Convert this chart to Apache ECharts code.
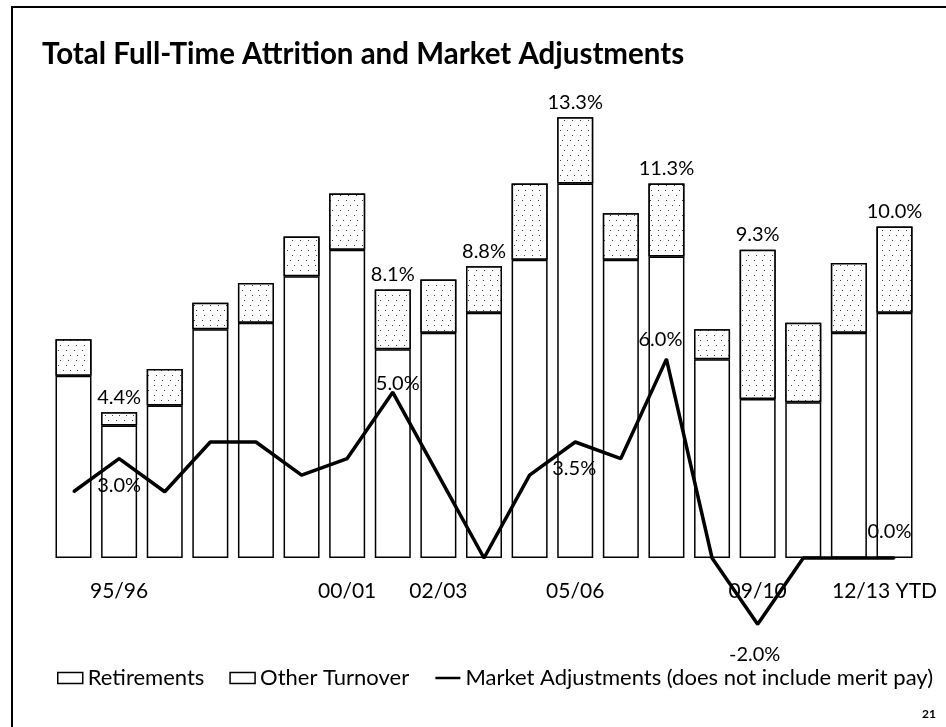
<!DOCTYPE html>
<html>
<head>
<meta charset="utf-8">
<script src="https://cdn.jsdelivr.net/npm/echarts@6/dist/echarts.min.js"></script>
<style>
html,body{margin:0;padding:0;background:#fff;}
#chart{width:946px;height:727px;}
</style>
</head>
<body>
<div id="chart"></div>
<script>
const categories = ['94/95','95/96','96/97','97/98','98/99','99/00','00/01','01/02','02/03','03/04','04/05','05/06','06/07','07/08','08/09','09/10','10/11','11/12','12/13 YTD'];
const tickLabels = ['', '95/96', '', '', '', '', '00/01', '', '02/03', '', '', '05/06', '', '', '', '09/10', '', '', '12/13 YTD'];
const retirements = [5.5, 4.0, 4.6, 6.9, 7.1, 8.5, 9.3, 6.3, 6.8, 7.4, 9.0, 11.3, 9.0, 9.1, 6.0, 4.8, 4.7, 6.8, 7.4];
const otherTurnover = [1.1, 0.4, 1.1, 0.8, 1.2, 1.2, 1.7, 1.8, 1.6, 1.4, 2.3, 2.0, 1.4, 2.2, 0.9, 4.5, 2.4, 2.1, 2.6];
const marketAdjustments = [2.0, 3.0, 2.0, 3.5, 3.5, 2.5, 3.0, 5.0, 2.5, 0.0, 2.5, 3.5, 3.0, 6.0, 0.0, -2.0, 0.0, 0.0, 0.0];
const totalLabelShown = [false, true, false, false, false, false, false, true, false, true, false, true, false, true, false, true, false, false, true];
const lineLabelOffsets = {1: [0, 27], 7: [5, -9], 11: [-1, 27], 13: [-6, -20], 15: [-3, 30], 18: [-5, -26]};

const FONT = 'Lato';
const chart = echarts.init(document.getElementById('chart'), null, {renderer: 'canvas'});

const otherData = otherTurnover.map((v, i) => ({
  value: v,
  label: {
    show: totalLabelShown[i],
    position: 'top',
    distance: 5,
    formatter: () => (retirements[i] + otherTurnover[i]).toFixed(1) + '%'
  }
}));

const lineData = marketAdjustments.map((v, i) => {
  const off = lineLabelOffsets[i];
  return {
    value: v,
    label: off ? {show: true, position: 'inside', offset: off, formatter: v.toFixed(1) + '%'} : {show: false}
  };
});

chart.setOption({
  backgroundColor: '#ffffff',
  animation: false,
  textStyle: {fontFamily: FONT, color: '#000'},
  title: {
    text: 'Total Full-Time Attrition and Market Adjustments',
    left: 37,
    top: 34,
    textStyle: {fontFamily: FONT, fontWeight: 'bold', fontSize: 29.5, color: '#000'}
  },
  legend: {
    left: 57,
    top: 667,
    width: 889,
    padding: 0,
    itemWidth: 25,
    itemHeight: 11,
    itemGap: 25,
    textStyle: {fontFamily: FONT, fontSize: 22, color: '#000'},
    data: [
      {name: 'Retirements', icon: 'rect', itemStyle: {color: '#fff', borderColor: '#000', borderWidth: 1.5, decal: 'none'}},
      {name: 'Other Turnover', icon: 'rect', itemStyle: {color: '#fff', borderColor: '#000', borderWidth: 1.5, decal: 'none'}},
      {name: 'Market Adjustments (does not include merit pay)', itemStyle: {opacity: 0, borderWidth: 0}, lineStyle: {color: '#000', width: 2.5}}
    ]
  },
  grid: {left: 50.7, right: 28.7, top: 94, bottom: 169, containLabel: false},
  xAxis: {
    type: 'category',
    data: categories,
    axisLine: {show: false},
    axisTick: {show: false},
    axisLabel: {
      interval: 0,
      margin: 23,
      fontFamily: FONT,
      fontSize: 21,
      color: '#000',
      formatter: (val, idx) => idx === categories.length - 1 ? '{r|' + tickLabels[idx] + '}' : tickLabels[idx],
      rich: {r: {fontFamily: FONT, fontSize: 21, color: '#000', padding: [0, 20, 0, 0]}}
    }
  },
  yAxis: {
    type: 'value',
    min: 0,
    max: 14,
    show: false,
    splitLine: {show: false}
  },
  series: [
    {
      name: 'Retirements',
      type: 'bar',
      stack: 'total',
      barWidth: 36,
      data: retirements,
      itemStyle: {color: '#fff', borderColor: '#000', borderWidth: 1.5}
    },
    {
      name: 'Other Turnover',
      type: 'bar',
      stack: 'total',
      barWidth: 36,
      data: otherData,
      itemStyle: {
        color: '#fff', borderColor: '#000', borderWidth: 1.5,
        decal: {
          symbol: 'rect',
          symbolSize: 1,
          color: 'rgba(0,0,0,0.75)',
          backgroundColor: '#fff',
          dashArrayX: [[1, 6], [0, 4, 1, 3], [0, 2, 1, 5]],
          dashArrayY: [1, 4],
          rotation: 0
        }
      },
      label: {fontFamily: FONT, fontSize: 20, color: '#000'}
    },
    {
      name: 'Market Adjustments (does not include merit pay)',
      type: 'line',
      data: lineData,
      clip: false,
      symbol: 'circle',
      symbolSize: 2,
      showSymbol: true,
      itemStyle: {color: '#000'},
      lineStyle: {color: '#000', width: 3.5},
      label: {fontFamily: FONT, fontSize: 20, color: '#000'},
      z: 5
    }
  ],
  graphic: [
    {
      type: 'polyline',
      shape: {points: [[12, 727], [12, 7], [946, 7]]},
      style: {stroke: '#000', lineWidth: 2, fill: null},
      silent: true
    },
    {
      type: 'text',
      left: 922,
      top: 708,
      style: {text: '21', fontFamily: FONT, fontWeight: 'bold', fontSize: 12, fill: '#000'}
    }
  ]
});
</script>
</body>
</html>
